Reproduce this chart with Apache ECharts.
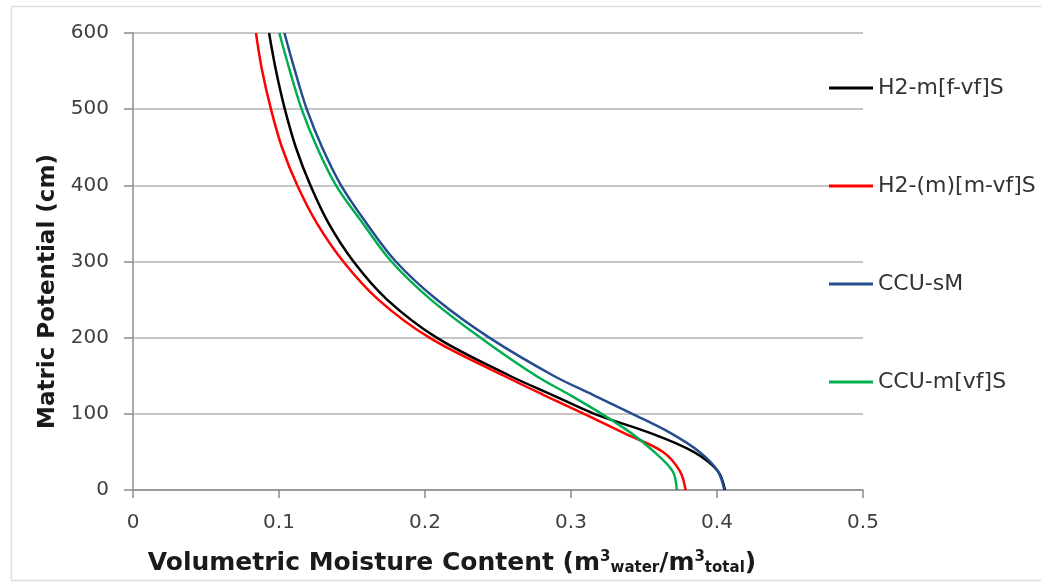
<!DOCTYPE html>
<html>
<head>
<meta charset="utf-8">
<script src="https://cdn.jsdelivr.net/npm/echarts@6/dist/echarts.min.js"></script>
<style>
	html, body { margin: 0; padding: 0; background: #fff; }
	#chart { width: 1041px; height: 582px; }
</style>
</head>
<body>
<div id="chart"></div>
<script>
// matric potential (cm), shared by all curves
var potential = [0, 25, 50, 75, 100, 125, 150, 200, 250, 300, 350, 400, 450, 500, 550, 600];

// volumetric moisture content
var h2mfvf = [0.4055, 0.4005, 0.384, 0.354, 0.316, 0.287, 0.258, 0.208, 0.174, 0.151, 0.134, 0.1215, 0.1115, 0.104, 0.098, 0.0932];
var h2mmvf = [0.3785, 0.3745, 0.363, 0.336, 0.309, 0.281, 0.254, 0.203, 0.168, 0.144, 0.126, 0.1125, 0.102, 0.0945, 0.0885, 0.0842];
var ccusm = [0.405, 0.4005, 0.388, 0.368, 0.342, 0.315, 0.288, 0.244, 0.208, 0.18, 0.16, 0.1425, 0.1295, 0.119, 0.111, 0.1037];
var ccumvf = [0.3725, 0.3695, 0.357, 0.341, 0.321, 0.299, 0.276, 0.238, 0.204, 0.177, 0.1575, 0.139, 0.126, 0.1155, 0.1075, 0.1002];

var names = ['H2-m[f-vf]S', 'H2-(m)[m-vf]S', 'CCU-sM', 'CCU-m[vf]S'];
var colors = ['#000000', '#ff0000', '#254e8e', '#00b050'];
var values = [h2mfvf, h2mmvf, ccusm, ccumvf];

function pairs(xs) {
	return potential.map(function(y, i) { return [xs[i], y]; });
}

var myChart = echarts.init(document.getElementById('chart'));
var font = 'DejaVu Sans';
option = {
	animation: false,
	graphic: [{
		type: 'rect',
		left: 9,
		top: 4,
		shape: { width: 1100, height: 574 },
		style: { fill: 'none', stroke: '#dedede', lineWidth: 1.5 },
		silent: true
	}],
	grid: {
		left: 133,
		right: 178,
		top: 33,
		bottom: 92
	},
	legend: {
		orient: 'vertical',
		left: 824,
		top: 72,
		itemWidth: 44,
		itemHeight: 3,
		itemGap: 76,
		icon: 'rect',
		textStyle: { fontFamily: font, fontSize: 22, color: '#333333' },
		data: names
	},
	xAxis: {
		type: 'value',
		min: 0,
		max: 0.5,
		interval: 0.1,
		name: '{b|Volumetric Moisture Content (m}{sup|3}{sub|water}{b|/m}{sup|3}{sub|total}{b|)}',
		nameLocation: 'middle',
		nameGap: 60,
		nameTextStyle: {
			padding: [0, 92, 0, 0],
			rich: {
				b: { fontFamily: font, fontWeight: 'bold', fontSize: 25, color: '#1a1a1a' },
				sup: { fontFamily: font, fontWeight: 'bold', fontSize: 15, color: '#1a1a1a', verticalAlign: 'top', padding: [0, 0, 11, 0] },
				sub: { fontFamily: font, fontWeight: 'bold', fontSize: 15, color: '#1a1a1a', verticalAlign: 'bottom', padding: [11, 0, 0, 0] }
			}
		},
		axisLine: { show: true, lineStyle: { color: '#8c8c8c', width: 1.5 } },
		axisTick: { show: true, length: 8, inside: false, lineStyle: { color: '#8c8c8c', width: 1.5 } },
		axisLabel: { fontFamily: font, fontSize: 20, color: '#404040', margin: 23 },
		splitLine: { show: false }
	},
	yAxis: {
		type: 'value',
		min: 0,
		max: 600,
		interval: 100,
		name: 'Matric Potential (cm)',
		nameLocation: 'middle',
		nameGap: 71,
		nameTextStyle: { fontFamily: font, fontWeight: 'bold', fontSize: 23, color: '#1a1a1a', padding: [0, 60, 0, 0] },
		axisLine: { show: true, lineStyle: { color: '#8c8c8c', width: 1.5 } },
		axisTick: { show: true, length: 9, lineStyle: { color: '#8c8c8c', width: 1.5 } },
		axisLabel: { fontFamily: font, fontSize: 20, color: '#404040', margin: 24 },
		splitLine: { show: true, lineStyle: { color: '#b3b3b3', width: 1.5 } }
	},
	series: names.map(function(n, i) {
		return {
			name: n,
			type: 'line',
			data: pairs(values[i]),
			smooth: 0.35,
			showSymbol: false,
			symbol: 'none',
			color: colors[i],
			lineStyle: { color: colors[i], width: 2.5 }
		};
	})
};
myChart.setOption(option);
</script>
</body>
</html>
